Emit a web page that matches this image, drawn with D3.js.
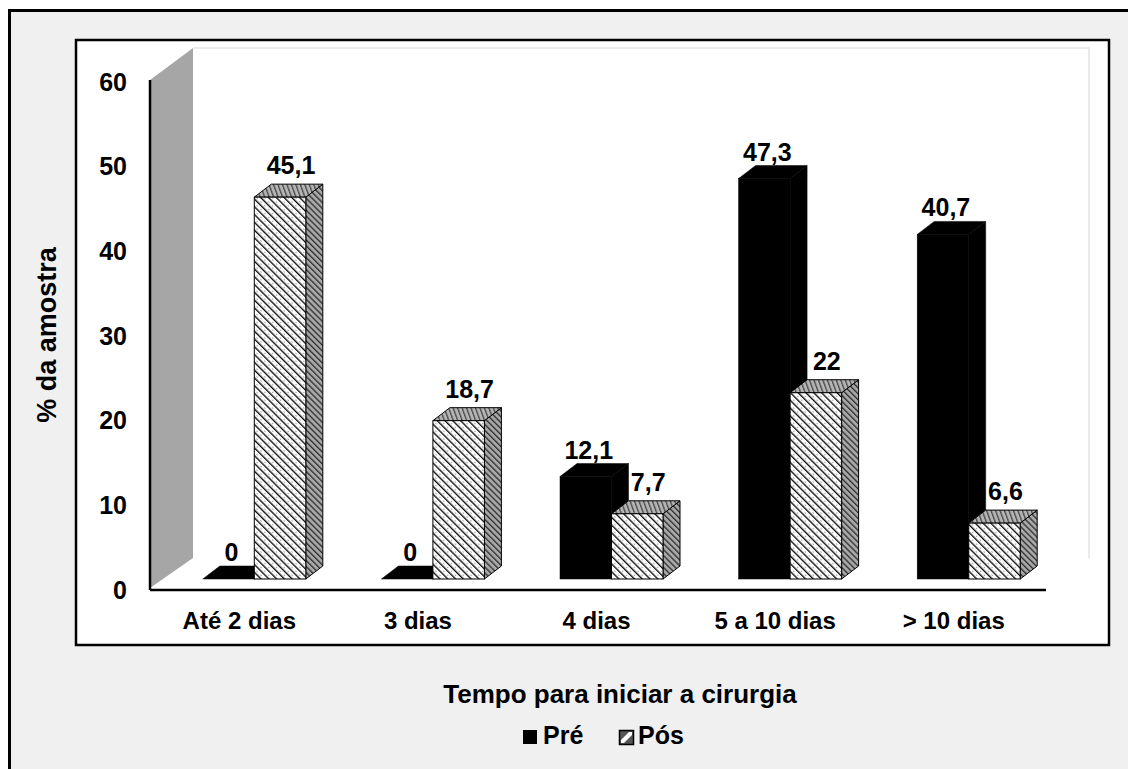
<!DOCTYPE html>
<html>
<head>
<meta charset="utf-8">
<script src="https://cdn.jsdelivr.net/npm/d3@7"></script>
<style>
  html, body { margin: 0; padding: 0; background: #ffffff; }
  svg { display: block; }
  text { font-family: "Liberation Sans", Arial, sans-serif; font-weight: bold; fill: #000; }
</style>
</head>
<body>
<svg id="chart" width="1128" height="769"></svg>
<script>
// Tempo para iniciar a cirurgia — % da amostra, pré e pós
const categories = ["Até 2 dias", "3 dias", "4 dias", "5 a 10 dias", "> 10 dias"];
const seriesNames = ["Pré", "Pós"];
const preValues = [0, 0, 12.1, 47.3, 40.7];
const posValues = [45.1, 18.7, 7.7, 22, 6.6];
const yTicks = [0, 10, 20, 30, 40, 50, 60];
const yTitle = "% da amostra";
const xTitle = "Tempo para iniciar a cirurgia";

const svg = d3.select("#chart");
const fmt = v => String(v).replace(".", ",");

// 3D geometry: wall depth, bar row offset and bar depth
const wall = { dx: 43, dy: -32 };
const row = { dx: 15, dy: -11 };
const depth = { dx: 17, dy: -13 };

const plot = { left: 150, right: 1043, bottom: 590, top: 82 };

const y = d3.scaleLinear().domain([0, 60]).range([plot.bottom, plot.top]);
const x = d3.scaleBand().domain(categories).range([plot.left, plot.right]);
const pairWidth = 103;
const x1 = d3.scaleBand().domain(seriesNames).range([0, pairWidth]);
const groupOffset = (x.bandwidth() - pairWidth) / 2;

// label placement per series (shift from the front face top)
const labelShift = { "Pré": { dx: 3, dy: -18 }, "Pós": { dx: 11, dy: -23 } };

// hatch patterns for the "Pós" series
const defs = svg.append("defs");
function hatch(id, bg, stroke, size, sw, angle, dots) {
  const p = defs.append("pattern")
    .attr("id", id)
    .attr("patternUnits", "userSpaceOnUse")
    .attr("width", size).attr("height", size)
    .attr("patternTransform", `rotate(${angle})`);
  p.append("rect").attr("width", size).attr("height", size).attr("fill", bg);
  p.append("line").attr("x1", 0.7).attr("y1", 0).attr("x2", 0.7).attr("y2", size)
    .attr("stroke", stroke).attr("stroke-width", sw);
  if (dots) {
    p.append("circle").attr("cx", size * 0.6).attr("cy", size / 2).attr("r", 0.55).attr("fill", "#333");
  }
}
hatch("posFront", "#ffffff", "#000", 5.5, 1.3, -45, true);
hatch("posSide", "#a8a8a8", "#222", 4.2, 1.2, -45, false);
hatch("posTop", "#b4b4b4", "#333", 4.2, 1.1, -20, false);

// outer frame and chart box
svg.append("rect").attr("x", 9.5).attr("y", 10.5).attr("width", 1300).attr("height", 900)
  .attr("fill", "#f0f0f0").attr("stroke", "#000").attr("stroke-width", 3);
svg.append("rect").attr("x", 76).attr("y", 40).attr("width", 1033).attr("height", 605)
  .attr("fill", "#ffffff").attr("stroke", "#000").attr("stroke-width", 2.5);

// back wall outline (faint) and side wall (grey)
const wallTop = plot.top - 2;
svg.append("path")
  .attr("d", `M${plot.left + wall.dx},${wallTop + wall.dy} L${plot.left + 896 + wall.dx},${wallTop + wall.dy} L${plot.left + 896 + wall.dx},${plot.bottom + wall.dy}`)
  .attr("fill", "none").attr("stroke", "#e4e4e4").attr("stroke-width", 1.5);
svg.append("polygon")
  .attr("points", [
    [plot.left, wallTop],
    [plot.left + wall.dx, wallTop + wall.dy],
    [plot.left + wall.dx, plot.bottom + wall.dy],
    [plot.left, plot.bottom - 2]
  ].map(p => p.join(",")).join(" "))
  .attr("fill", "#a6a6a6");

// bars
const bars = [];
categories.forEach((c, i) => {
  bars.push({ cat: c, series: "Pré", value: preValues[i] });
  bars.push({ cat: c, series: "Pós", value: posValues[i] });
});

const barG = svg.append("g");
const labelG = svg.append("g");
bars.forEach(b => {
  const x0 = x(b.cat) + groupOffset + x1(b.series) + row.dx;
  const x2 = x0 + x1.bandwidth();
  const yb = y(0) + row.dy;
  const yt = y(b.value) + row.dy;
  const isPre = b.series === "Pré";
  const g = barG.append("g");
  const sw = isPre ? 0.5 : 1;
  // side face
  g.append("polygon")
    .attr("points", [[x2, yb], [x2, yt], [x2 + depth.dx, yt + depth.dy], [x2 + depth.dx, yb + depth.dy]].map(p => p.join(",")).join(" "))
    .attr("fill", isPre ? "#000" : "url(#posSide)")
    .attr("stroke", "#000").attr("stroke-width", sw).attr("stroke-linejoin", "round");
  // top face
  g.append("polygon")
    .attr("points", [[x0, yt], [x0 + depth.dx, yt + depth.dy], [x2 + depth.dx, yt + depth.dy], [x2, yt]].map(p => p.join(",")).join(" "))
    .attr("fill", isPre ? "#000" : "url(#posTop)")
    .attr("stroke", "#000").attr("stroke-width", sw).attr("stroke-linejoin", "round");
  // front face
  if (b.value > 0) {
    g.append("rect")
      .attr("x", x0).attr("y", yt)
      .attr("width", x2 - x0).attr("height", yb - yt)
      .attr("fill", isPre ? "#000" : "url(#posFront)")
      .attr("stroke", "#000").attr("stroke-width", sw);
  }
  // value label
  const ls = labelShift[b.series];
  labelG.append("text")
    .attr("x", (x0 + x2) / 2 + ls.dx)
    .attr("y", yt + ls.dy)
    .attr("text-anchor", "middle")
    .attr("font-size", 25)
    .text(fmt(b.value));
});
labelG.raise();

// axis lines
svg.append("line").attr("x1", plot.left).attr("x2", plot.left)
  .attr("y1", wallTop).attr("y2", plot.bottom)
  .attr("stroke", "#000").attr("stroke-width", 2.5);
svg.append("line").attr("x1", plot.left).attr("x2", plot.right + 3)
  .attr("y1", plot.bottom).attr("y2", plot.bottom)
  .attr("stroke", "#000").attr("stroke-width", 2.5);

// y axis ticks
const yAxis = svg.append("g")
  .attr("transform", `translate(${plot.left},0)`)
  .call(d3.axisLeft(y).tickValues(yTicks).tickSize(0).tickPadding(23).tickFormat(d => d));
yAxis.select(".domain").remove();
yAxis.selectAll("text").attr("font-size", 25).attr("font-family", null).style("font-weight", "bold");

// x axis categories
const xAxis = svg.append("g")
  .attr("transform", `translate(0,${plot.bottom})`)
  .call(d3.axisBottom(x).tickSize(0).tickPadding(22));
xAxis.select(".domain").remove();
xAxis.selectAll("text").attr("font-size", 24).attr("font-family", null).style("font-weight", "bold");

// axis titles
svg.append("text")
  .attr("transform", "translate(56,335) rotate(-90)")
  .attr("text-anchor", "middle")
  .attr("font-size", 27)
  .text(yTitle);
svg.append("text")
  .attr("x", 620).attr("y", 703)
  .attr("text-anchor", "middle")
  .attr("font-size", 26)
  .text(xTitle);

// legend
const legend = svg.append("g");
legend.append("rect").attr("x", 523).attr("y", 730).attr("width", 14).attr("height", 14).attr("fill", "#000");
legend.append("text").attr("x", 543).attr("y", 744).attr("font-size", 25).text(seriesNames[0]);
legend.append("rect").attr("x", 619.5).attr("y", 730.5).attr("width", 14).attr("height", 14)
  .attr("fill", "#555").attr("stroke", "#000").attr("stroke-width", 1.5);
legend.append("polygon").attr("points", "621,740 629,732 632,732 632,735 624,743 621,743").attr("fill", "#fff");
legend.append("text").attr("x", 638).attr("y", 744).attr("font-size", 25).text(seriesNames[1]);
</script>
</body>
</html>
